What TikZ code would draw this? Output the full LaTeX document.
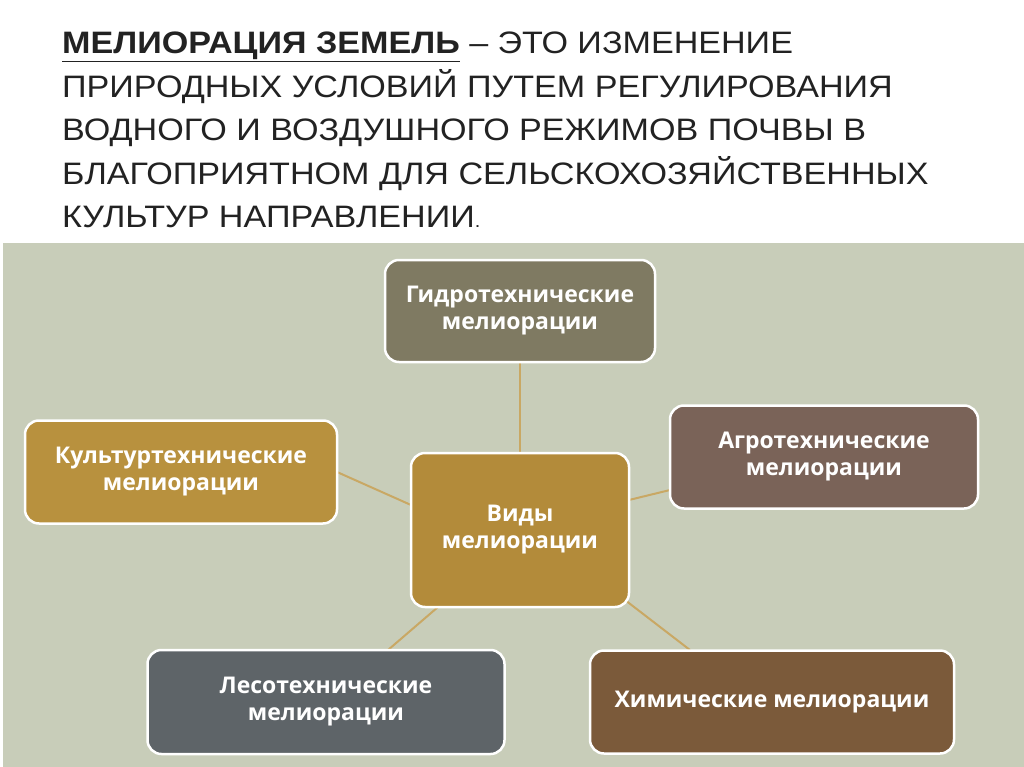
\documentclass[tikz,border=0pt]{standalone}
\usepackage{fontspec}
\setmainfont{Liberation Sans}[FakeStretch=1.1]
\newfontfamily\boxfont{Open Sans}
\definecolor{bg}{HTML}{C8CDB9}
\definecolor{olive}{HTML}{7F7A62}
\definecolor{gold}{HTML}{B8913E}
\definecolor{goldc}{HTML}{B38B3A}
\definecolor{agro}{HTML}{7A6358}
\definecolor{slate}{HTML}{5E6468}
\definecolor{chem}{HTML}{7B5A3A}
\definecolor{link}{HTML}{C9A864}
\definecolor{ttl}{HTML}{222222}
\begin{document}
\begin{tikzpicture}[x=1pt,y=-1pt,
  mbox/.style={draw=white,line width=2.5pt,rounded corners=14pt,text=white,
    font=\boxfont\bfseries\fontsize{23}{27}\selectfont,align=center,inner sep=0pt},
  conn/.style={draw=link,line width=2pt}]
\useasboundingbox (0,0) rectangle (1024,767);
\fill[white] (0,0) rectangle (1024,767);
\fill[bg] (3,243) rectangle (1024,767);
\node[anchor=north west,align=left,text=ttl,font=\fontsize{31}{43.5}\selectfont,inner sep=0pt] (title) at (62,32)
{\underline{\textbf{МЕЛИОРАЦИЯ ЗЕМЕЛЬ}} – ЭТО ИЗМЕНЕНИЕ\\ПРИРОДНЫХ УСЛОВИЙ ПУТЕМ РЕГУЛИРОВАНИЯ\\ВОДНОГО И ВОЗДУШНОГО РЕЖИМОВ ПОЧВЫ В\\БЛАГОПРИЯТНОМ ДЛЯ СЕЛЬСКОХОЗЯЙСТВЕННЫХ\\КУЛЬТУР НАПРАВЛЕНИИ{\fontsize{18}{20}\selectfont.}};
\coordinate (g0) at (520,362);
\coordinate (c0) at (520,453);
\coordinate (k0) at (337,472);
\coordinate (c1) at (411,505);
\coordinate (a0) at (670,490);
\coordinate (c2) at (629,500);
\coordinate (l0) at (388,650);
\coordinate (c3) at (438,607);
\coordinate (h0) at (690,650);
\coordinate (c4) at (625,600);
\draw[conn] (g0) -- (c0);
\draw[conn] (k0) -- (c1);
\draw[conn] (a0) -- (c2);
\draw[conn] (l0) -- (c3);
\draw[conn] (h0) -- (c4);
\node[mbox,fill=goldc,minimum width=218pt,minimum height=154pt] (c) at (520,530) {Виды\\мелиорации};
\node[mbox,fill=olive,minimum width=270pt,minimum height=102pt] (g) at (520,311) {Гидротехнические\\мелиорации};
\node[mbox,fill=gold,minimum width=312pt,minimum height=103pt] (k) at (181,472) {Культуртехнические\\мелиорации};
\node[mbox,fill=agro,minimum width=308pt,minimum height=103pt] (a) at (824,457) {Агротехнические\\мелиорации};
\node[mbox,fill=slate,minimum width=357pt,minimum height=104pt] (l) at (326,702) {Лесотехнические\\мелиорации};
\node[mbox,fill=chem,minimum width=364pt,minimum height=103pt] (h) at (772,702) {Химические мелиорации};
\end{tikzpicture}
\end{document}
